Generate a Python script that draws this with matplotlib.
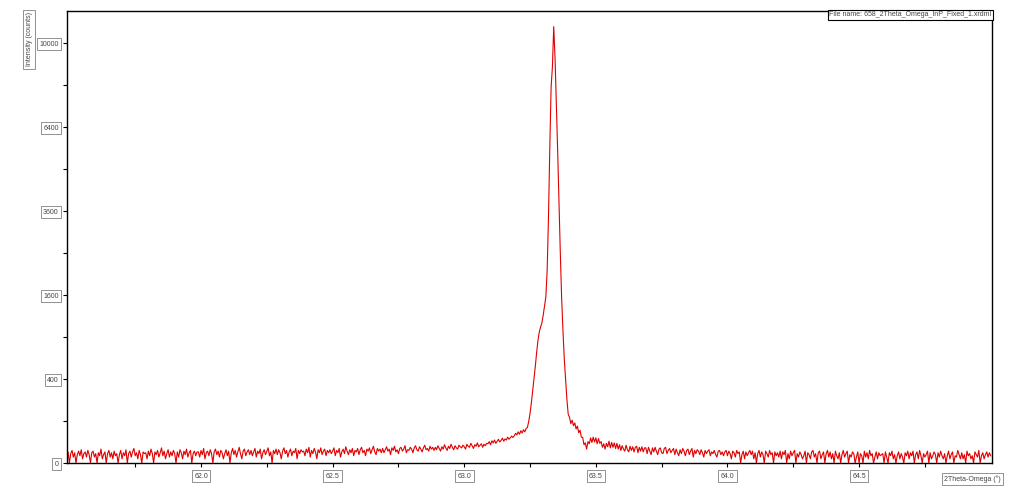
import numpy as np
import matplotlib
matplotlib.use("Agg")
import matplotlib.pyplot as plt
from matplotlib.ticker import FixedLocator, FormatStrFormatter

# scan definition (2Theta-Omega, degrees)
scan_start = 61.49
scan_step = 0.005

# intensity (counts), one row = 0.1 deg
counts = [
    1, 7, 0, 5, 9, 2, 6, 0, 4, 8, 3, 10, 1, 5, 7, 2, 9, 4, 0, 6,
    8, 2, 5, 0, 6, 3, 11, 1, 4, 7, 0, 5, 9, 2, 6, 1, 8, 3, 5, 0,
    4, 9, 1, 6, 3, 10, 0, 5, 8, 2, 7, 12, 3, 6, 1, 9, 4, 0, 7, 5,
    6, 1, 8, 3, 11, 5, 0, 7, 4, 9, 2, 6, 13, 3, 8, 1, 5, 10, 2, 7,
    3, 9, 5, 0, 7, 2, 10, 6, 1, 8, 4, 11, 2, 6, 9, 0, 5, 8, 3, 7,
    7, 2, 9, 4, 12, 1, 6, 8, 3, 10, 5, 0, 7, 11, 4, 8, 2, 9, 6, 1,
    5, 10, 3, 8, 0, 6, 12, 4, 9, 2, 7, 14, 5, 1, 8, 11, 3, 7, 10, 4,
    9, 3, 7, 12, 2, 8, 5, 11, 1, 6, 10, 4, 8, 13, 3, 7, 0, 9, 5, 11,
    4, 10, 6, 1, 8, 13, 5, 9, 2, 7, 11, 3, 8, 6, 12, 1, 9, 5, 10, 7,
    8, 3, 11, 6, 14, 2, 9, 5, 12, 7, 1, 10, 6, 13, 4, 8, 11, 3, 9, 6,
    10, 5, 8, 13, 3, 9, 6, 12, 2, 7, 11, 5, 15, 8, 4, 10, 6, 12, 3, 9,
    7, 12, 4, 10, 14, 6, 9, 3, 11, 8, 13, 5, 10, 16, 7, 4, 12, 8, 11, 6,
    12, 6, 10, 15, 8, 11, 4, 13, 9, 16, 7, 10, 5, 12, 14, 8, 11, 17, 6, 10,
    9, 14, 11, 6, 13, 17, 10, 8, 15, 11, 7, 13, 18, 10, 12, 8, 16, 11, 14, 9,
    14, 10, 17, 12, 8, 15, 11, 19, 13, 9, 16, 12, 20, 14, 10, 17, 13, 11, 18, 15,
    13, 18, 15, 11, 20, 16, 14, 22, 17, 12, 19, 16, 23, 15, 18, 21, 14, 20, 17, 22,
    21, 26, 19, 28, 23, 30, 22, 27, 32, 25, 29, 35, 27, 33, 30, 38, 32, 36, 41, 37,
    42, 50, 45, 55, 47, 59, 51, 63, 55, 67, 72, 98, 140, 205, 295, 395, 530, 690, 850, 970,
    1050, 1110, 1240, 1400, 1560, 2100, 3400, 5600, 8000, 8900,
    10800, 9300, 7300, 5500, 3800, 2500, 1550, 1000, 620, 400,
    230, 135, 118, 88, 104, 79, 91, 66, 77, 52, 61, 38, 37, 19, 23, 11, 26, 21, 36, 24,
    38, 25, 36, 21, 34, 22, 26, 14, 21, 11, 22, 15, 27, 13, 24, 14, 23, 12, 22, 11,
    19, 9, 17, 11, 8, 18, 10, 7, 16, 9, 15, 7, 14, 16, 6, 14, 8, 15, 7, 13,
    13, 5, 14, 8, 4, 13, 7, 14, 8, 4, 11, 13, 6, 5, 12, 14, 5, 9, 12, 6,
    9, 12, 4, 11, 6, 3, 10, 5, 12, 8, 3, 9, 11, 4, 8, 12, 2, 9, 5, 10,
    8, 4, 10, 6, 2, 9, 5, 8, 10, 3, 7, 5, 9, 4, 2, 8, 9, 4, 7, 3,
    7, 9, 3, 8, 5, 1, 8, 6, 2, 9, 5, 7, 0, 4, 8, 1, 7, 3, 6, 9,
    4, 8, 1, 6, 0, 5, 9, 2, 7, 4, 0, 8, 5, 2, 9, 4, 6, 0, 7, 3,
    6, 2, 8, 1, 7, 4, 9, 0, 5, 1, 8, 3, 6, 9, 0, 5, 2, 7, 4, 1,
    3, 8, 0, 6, 4, 1, 7, 9, 2, 5, 0, 6, 8, 1, 4, 7, 0, 5, 9, 2,
    7, 1, 5, 0, 8, 3, 1, 6, 0, 4, 9, 2, 5, 8, 0, 4, 2, 7, 5, 0,
    2, 7, 0, 5, 3, 0, 8, 2, 6, 1, 9, 3, 5, 0, 2, 7, 1, 6, 3, 4,
    5, 0, 7, 2, 0, 6, 3, 8, 1, 4, 0, 3, 7, 1, 5, 2, 0, 6, 3, 8,
    1, 6, 3, 8, 0, 4, 7, 1, 9, 3, 0, 5, 2, 4, 8, 0, 6, 1, 3, 7,
    4, 0, 6, 2, 8, 3, 1, 5, 0, 3, 8, 1, 4, 7, 0, 3, 2, 9, 4, 1,
    6, 1, 4, 0, 8, 3, 5, 1, 3, 0, 7, 4, 2, 9, 0, 3, 6, 1, 4, 7,
    2, 6, 3,
]

y_major = [0, 400, 1600, 3600, 6400, 10000]
y_minor = [100, 900, 2500, 4900, 8100]
x_major = [62.0, 62.5, 63.0, 63.5, 64.0, 64.5]
x_minor = [61.75, 62.25, 62.75, 63.25, 63.75, 64.25, 64.75]

file_name = "File name: 658_2Theta_Omega_InP_Fixed_1.xrdml"

plt.rcParams['font.family'] = ['Liberation Sans', 'DejaVu Sans']

x = scan_start + scan_step * np.arange(len(counts))
y = np.array(counts, dtype=float)

fig = plt.figure(figsize=(10.14, 4.92), dpi=100)
ax = fig.add_axes([0.0661, 0.0589, 0.9122, 0.9187])

ax.plot(x, y, color='#e00000', linewidth=0.8)

# square-root intensity axis
ax.set_yscale('function', functions=(lambda v: np.sqrt(np.maximum(v, 0)), np.square))
ax.set_xlim(61.491, 65.005)
ax.set_ylim(0, 11585)

ax.yaxis.set_major_locator(FixedLocator(y_major))
ax.yaxis.set_minor_locator(FixedLocator(y_minor))
ax.yaxis.set_major_formatter(FormatStrFormatter('%d'))
ax.yaxis.set_minor_formatter(plt.NullFormatter())
ax.xaxis.set_major_locator(FixedLocator(x_major))
ax.xaxis.set_minor_locator(FixedLocator(x_minor))
ax.xaxis.set_major_formatter(FormatStrFormatter('%.1f'))
ax.xaxis.set_minor_formatter(plt.NullFormatter())

ax.tick_params(which='both', direction='out', length=3, width=0.8, labelsize=5, colors='black')
ax.tick_params(axis='y', pad=3)
ax.tick_params(axis='x', pad=4)
for sp in ax.spines.values():
    sp.set_linewidth(1.0)

box = dict(facecolor='white', edgecolor='#808080', linewidth=0.6, boxstyle='square,pad=0.35')
for lbl in ax.get_xticklabels() + ax.get_yticklabels():
    lbl.set_bbox(box)
    lbl.set_color('#444444')

fig.text(0.0286, 0.975, "Intensity (counts)", rotation=90, ha='center', va='top',
         fontsize=5, color='#444444', bbox=box)
fig.text(0.959, 0.026, "2Theta-Omega (°)", ha='center', va='center',
         fontsize=5, color='#444444', bbox=box)
ax.text(0.9995, 0.999, file_name, transform=ax.transAxes, ha='right', va='top',
        fontsize=5, color='#444444',
        bbox=dict(facecolor='white', edgecolor='black', linewidth=0.8, boxstyle='square,pad=0.25'))

fig.savefig('out.png', dpi=100)
